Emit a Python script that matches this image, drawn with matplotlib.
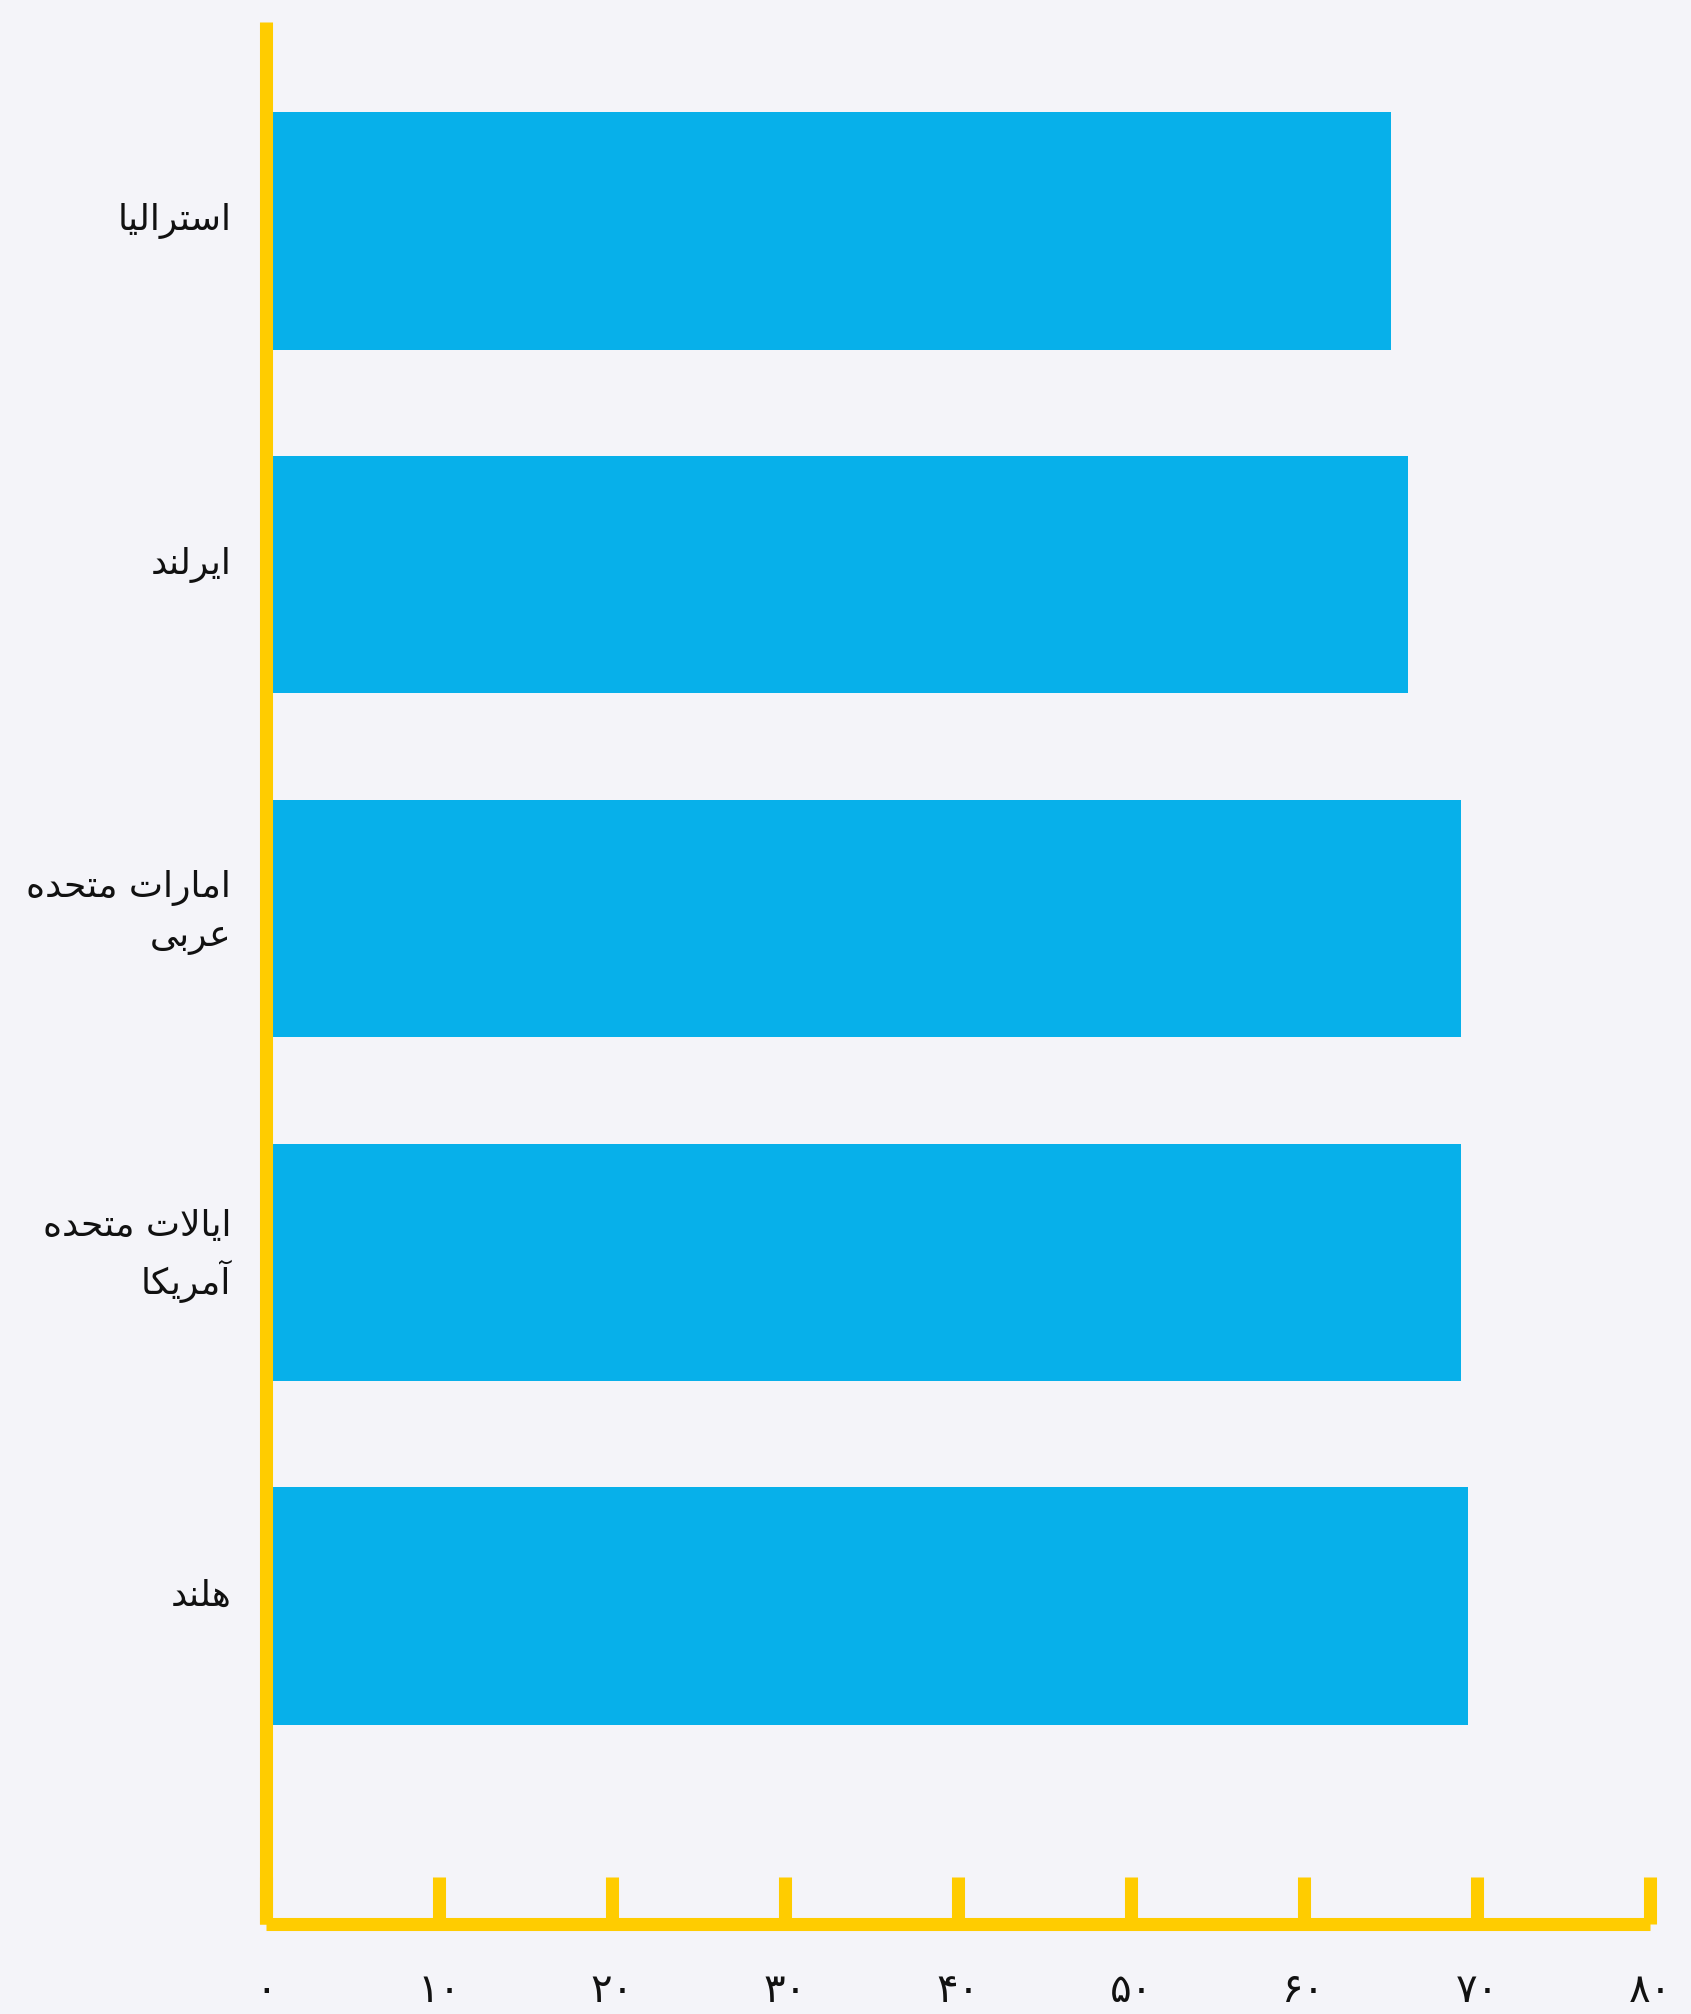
import matplotlib
matplotlib.use("Agg")
import matplotlib.pyplot as plt

# ---------------- data ----------------
categories = ['هلند', 'ایالات متحده\nآمریکا', 'امارات متحده\nعربی', 'ایرلند', 'استرالیا']
values = [69.5, 69.1, 69.05, 66.0, 65.05]
x_ticks = [0, 10, 20, 30, 40, 50, 60, 70, 80]
x_tick_labels = ['۰', '۱۰', '۲۰', '۳۰', '۴۰', '۵۰', '۶۰', '۷۰', '۸۰']

# ---------------- minimal Arabic/Persian shaping ----------------
FORMS = {  # isolated, final, initial, medial
    'ا': ('\uFE8D', '\uFE8E', None, None),
    'آ': ('\uFE81', '\uFE82', None, None),
    'د': ('\uFEA9', '\uFEAA', None, None),
    'ر': ('\uFEAD', '\uFEAE', None, None),
    'ب': ('\uFE8F', '\uFE90', '\uFE91', '\uFE92'),
    'ت': ('\uFE95', '\uFE96', '\uFE97', '\uFE98'),
    'ح': ('\uFEA1', '\uFEA2', '\uFEA3', '\uFEA4'),
    'س': ('\uFEB1', '\uFEB2', '\uFEB3', '\uFEB4'),
    'ع': ('\uFEC9', '\uFECA', '\uFECB', '\uFECC'),
    'ل': ('\uFEDD', '\uFEDE', '\uFEDF', '\uFEE0'),
    'م': ('\uFEE1', '\uFEE2', '\uFEE3', '\uFEE4'),
    'ن': ('\uFEE5', '\uFEE6', '\uFEE7', '\uFEE8'),
    'ه': ('\uFEE9', '\uFEEA', '\uFEEB', '\uFEEC'),
    'ی': ('\uFBFC', '\uFBFD', '\uFBFE', '\uFBFF'),
    'ک': ('\uFB8E', '\uFB8F', '\uFB90', '\uFB91'),
}
LAM_ALEF = {'ا': ('\uFEFB', '\uFEFC'), 'آ': ('\uFEF5', '\uFEF6')}


def dual(c):
    return c in FORMS and FORMS[c][2] is not None


def shape_line(s):
    out = []
    i = 0
    n = len(s)
    while i < n:
        c = s[i]
        prev = s[i - 1] if i > 0 else ''
        if c not in FORMS:
            out.append(c)
            i += 1
            continue
        jp = dual(prev)
        if c == 'ل' and i + 1 < n and s[i + 1] in LAM_ALEF:
            iso, fin = LAM_ALEF[s[i + 1]]
            out.append(fin if jp else iso)
            i += 2
            continue
        nxt = s[i + 1] if i + 1 < n else ''
        jn = dual(c) and nxt in FORMS
        iso, fin, ini, med = FORMS[c]
        if jp and jn:
            out.append(med)
        elif jp:
            out.append(fin)
        elif jn:
            out.append(ini)
        else:
            out.append(iso)
        i += 1
    return ''.join(out)[::-1]


def shape(s):
    return '\n'.join(shape_line(l) for l in s.split('\n'))


# ---------------- style ----------------
BG = '#F4F4F9'
BAR = '#07B0EA'
YEL = '#FFCC00'
TXT = '#111111'

plt.rcParams['font.family'] = ['DejaVu Sans']

fig = plt.figure(figsize=(16.91, 20.15), dpi=100, facecolor=BG)
ax = fig.add_axes([266 / 1691, 1 - 1925 / 2015, (1650 - 266) / 1691, (1925 - 23) / 2015])
ax.set_facecolor(BG)

ypos = list(range(len(categories)))
ax.barh(ypos, values, height=0.69, color=BAR, zorder=1)

ax.set_xlim(0, 80)
ax.set_ylim(-0.925, len(categories) - 1 + 0.608)

for side in ['top', 'right']:
    ax.spines[side].set_visible(False)
for side in ['left', 'bottom']:
    ax.spines[side].set_color(YEL)
    ax.spines[side].set_linewidth(9.4)
    ax.spines[side].set_zorder(3)
    ax.spines[side].set_capstyle('butt')

ax.set_xticks(x_ticks)
ax.set_xticklabels(x_tick_labels)
ax.tick_params(axis='x', direction='in', length=34, width=9.4, color=YEL,
               pad=33, labelsize=29, labelcolor=TXT)

ax.set_yticks([])
for y, c in zip(ypos, categories):
    two = '\n' in c
    ax.annotate(shape(c), xy=(0, y), xycoords=('axes fraction', 'data'),
                xytext=(-25, 5 if two else 8), textcoords='offset points',
                ha='right', va='center', fontsize=26, color=TXT,
                linespacing=1.5, annotation_clip=False)

fig.savefig('out.png', dpi=100, facecolor=BG)
